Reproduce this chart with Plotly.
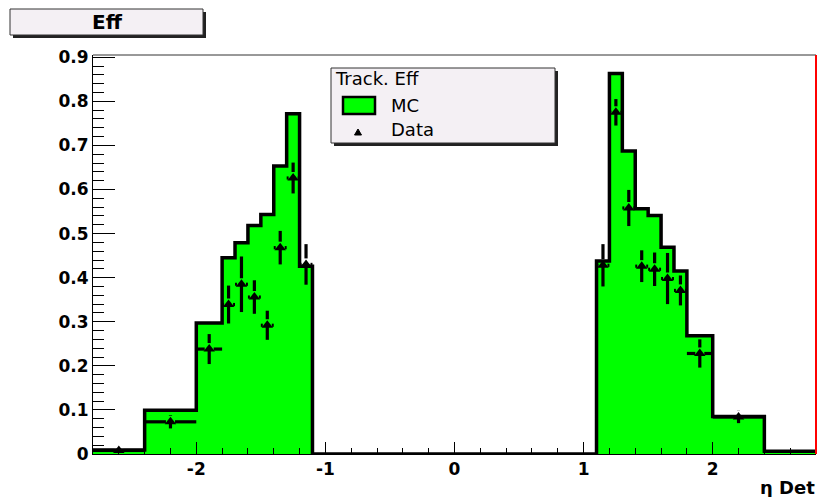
import plotly.graph_objects as go

# ---- histogram data -------------------------------------------------------
# variable-width eta bins of the MC efficiency histogram
bin_edges = [-2.8, -2.4, -2.0, -1.8, -1.7, -1.6, -1.5, -1.4, -1.3, -1.2, -1.1,
             1.1, 1.2, 1.3, 1.4, 1.5, 1.6, 1.7, 1.8, 2.0, 2.4, 2.8]
mc_eff = [0.009, 0.099, 0.297, 0.445, 0.479, 0.518, 0.543, 0.653, 0.772, 0.426,
          0.0,
          0.438, 0.863, 0.687, 0.556, 0.541, 0.469, 0.415, 0.268, 0.085, 0.006]

# measured efficiency points
data_eta = [-2.6, -2.2, -1.9, -1.75, -1.65, -1.55, -1.45, -1.35, -1.25, -1.15,
            1.15, 1.25, 1.35, 1.45, 1.55, 1.65, 1.75, 1.9, 2.2]
data_eff = [0.008, 0.073, 0.238, 0.339, 0.385, 0.356, 0.292, 0.468, 0.626, 0.430,
            0.428, 0.775, 0.558, 0.426, 0.419, 0.398, 0.371, 0.228, 0.084]
data_err = [0.004, 0.015, 0.034, 0.043, 0.063, 0.038, 0.033, 0.038, 0.035, 0.046,
            0.048, 0.030, 0.041, 0.036, 0.038, 0.058, 0.034, 0.032, 0.014]
data_xerr = [0.2, 0.2, 0.1, 0.05, 0.05, 0.05, 0.05, 0.05, 0.05, 0.05,
             0.05, 0.05, 0.05, 0.05, 0.05, 0.05, 0.05, 0.1, 0.2]

x_ticks = [-2, -1, 0, 1, 2]
x_tick_text = ["-2", "-1", "0", "1", "2"]

# ---- geometry --------------------------------------------------------------
W, H = 818, 497
M_L, M_R, M_T, M_B = 93, 2, 55, 43
PW, PH = W - M_L - M_R, H - M_T - M_B
X_RANGE = [-2.8, 2.8]
Y_RANGE = [0, 0.905]


def px(xp):
    return (xp - M_L) / PW


def py(yp):
    return (H - M_B - yp) / PH


# gaps (in data units) left around the marker when drawing error bars
gap_y = 6 * (Y_RANGE[1] - Y_RANGE[0]) / PH
gap_x = 4.5 * (X_RANGE[1] - X_RANGE[0]) / PW

fig = go.Figure()

# MC histogram: filled step outline
fig.add_trace(go.Scatter(
    x=bin_edges, y=mc_eff + [mc_eff[-1]],
    mode="lines", line=dict(shape="hv", color="black", width=3.5),
    fill="tozeroy", fillcolor="#00ff00", hoverinfo="skip", showlegend=False,
))

# error bars of the data points, broken around the marker
ex, ey = [], []
for x, y, e, hw in zip(data_eta, data_eff, data_err, data_xerr):
    if e > gap_y:
        ex += [x, x, None]
        ey += [y + gap_y, y + e, None]
    ex += [x, x, None]
    ey += [y, y - e, None]
    ex += [x - hw, x - gap_x, None, x + gap_x, x + hw, None]
    ey += [y, y, None, y, y, None]
fig.add_trace(go.Scatter(
    x=ex, y=ey, mode="lines", line=dict(color="black", width=3.2),
    hoverinfo="skip", showlegend=False,
))

fig.add_trace(go.Scatter(
    x=data_eta, y=data_eff, mode="markers",
    marker=dict(symbol="triangle-up", size=10, color="black"),
    showlegend=False,
))

tick_font = dict(family="DejaVu Sans", size=17, color="black", weight="bold")

fig.update_xaxes(
    range=X_RANGE, tickvals=x_ticks, ticktext=x_tick_text,
    ticks="inside", ticklen=12, tickwidth=1, tickcolor="black",
    minor=dict(ticks="inside", ticklen=6, dtick=0.2, tick0=0, tickcolor="black"),
    showline=True, linecolor="black", linewidth=1,
    showgrid=False, zeroline=False, tickfont=tick_font,
)
fig.update_yaxes(
    range=Y_RANGE, dtick=0.1, tick0=0,
    ticks="inside", ticklen=22, tickwidth=1, tickcolor="black",
    minor=dict(ticks="inside", ticklen=11, dtick=0.02, tick0=0, tickcolor="black"),
    showline=True, linecolor="black", linewidth=1,
    showgrid=False, zeroline=False, tickfont=tick_font,
)

box_fill = "#f4f0f4"
shapes = [
    # frame top and right edge
    dict(type="line", xref="paper", yref="paper", x0=0, x1=1, y0=1, y1=1,
         line=dict(color="#333333", width=1)),
    dict(type="line", xref="paper", yref="paper", x0=1, x1=1, y0=0, y1=1,
         line=dict(color="red", width=2)),
    # title box with shadow
    dict(type="rect", xref="paper", yref="paper", x0=px(13), x1=px(206),
         y0=py(38), y1=py(12), line=dict(width=0), fillcolor="#222222"),
    dict(type="rect", xref="paper", yref="paper", x0=px(10), x1=px(203),
         y0=py(35), y1=py(9), line=dict(color="#333333", width=1),
         fillcolor=box_fill),
    # legend box with shadow
    dict(type="rect", xref="paper", yref="paper", x0=px(334), x1=px(558),
         y0=py(146), y1=py(71), line=dict(width=0), fillcolor="#222222"),
    dict(type="rect", xref="paper", yref="paper", x0=px(331), x1=px(555),
         y0=py(143), y1=py(68), line=dict(color="#333333", width=1),
         fillcolor=box_fill),
    # legend MC swatch
    dict(type="rect", xref="paper", yref="paper", x0=px(343), x1=px(375),
         y0=py(114), y1=py(97), line=dict(color="black", width=2.5),
         fillcolor="#00ff00"),
    # legend Data marker
    dict(type="path", xref="paper", yref="paper",
         path=f"M {px(354.5)} {py(135)} L {px(361.5)} {py(135)} L {px(358)} {py(129)} Z",
         line=dict(color="black", width=1), fillcolor="black"),
]

legend_font = dict(family="DejaVu Sans", size=18, color="black")
annotations = [
    dict(text="Eff", xref="paper", yref="paper", x=px(107), y=py(22),
         xanchor="center", yanchor="middle", showarrow=False,
         font=dict(family="DejaVu Sans", size=20, color="black", weight="bold")),
    dict(text="Track. Eff", xref="paper", yref="paper", x=px(333), y=py(78),
         xanchor="left", yanchor="middle", showarrow=False, font=legend_font),
    dict(text="MC", xref="paper", yref="paper", x=px(389), y=py(105),
         xanchor="left", yanchor="middle", showarrow=False, font=legend_font),
    dict(text="Data", xref="paper", yref="paper", x=px(389), y=py(129),
         xanchor="left", yanchor="middle", showarrow=False, font=legend_font),
    dict(text="η Det", xref="paper", yref="paper", x=px(817), y=py(487),
         xanchor="right", yanchor="middle", showarrow=False,
         font=dict(family="DejaVu Sans", size=18, color="black", weight="bold")),
]

fig.update_layout(
    width=W, height=H,
    margin=dict(l=M_L, r=M_R, t=M_T, b=M_B, pad=0),
    plot_bgcolor="white", paper_bgcolor="white",
    showlegend=False, shapes=shapes, annotations=annotations,
)

fig.write_html("out.html")
